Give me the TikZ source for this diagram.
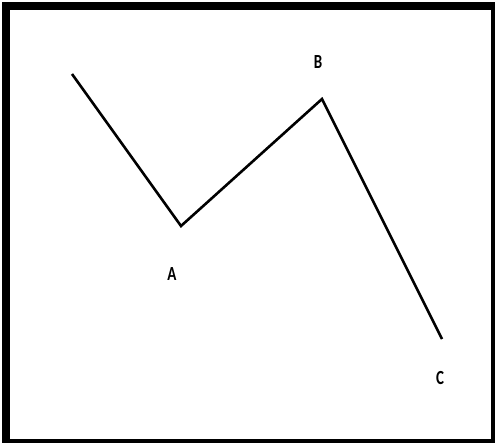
\documentclass[tikz,border=0pt]{standalone}
\usepackage{fontspec}
\setmainfont{Carlito}
\begin{document}
\begin{tikzpicture}[x=1pt,y=-1pt,
  lbl/.style={font=\bfseries\fontsize{20}{20}\selectfont, inner sep=0pt, anchor=center},
  wave/.style={line width=2.6pt, line join=miter}]
\useasboundingbox (0,0) rectangle (495,443);
\fill[white] (0,0) rectangle (495,443);
\fill[black] (2,2) rectangle (495,443);
\fill[white] (10,10) rectangle (491,439);
\coordinate (s) at (72,74);
\coordinate (a) at (181,226);
\coordinate (b) at (322,99);
\coordinate (c) at (442,339);
\draw[wave] (s) -- (a) -- (b) -- (c);
\node[lbl] (la) at (172,274) {\scalebox{0.75}[1]{A}};
\node[lbl] (lb) at (318,62) {\scalebox{0.75}[1]{B}};
\node[lbl] (lc) at (440,378) {\scalebox{0.75}[1]{C}};
\end{tikzpicture}
\end{document}
